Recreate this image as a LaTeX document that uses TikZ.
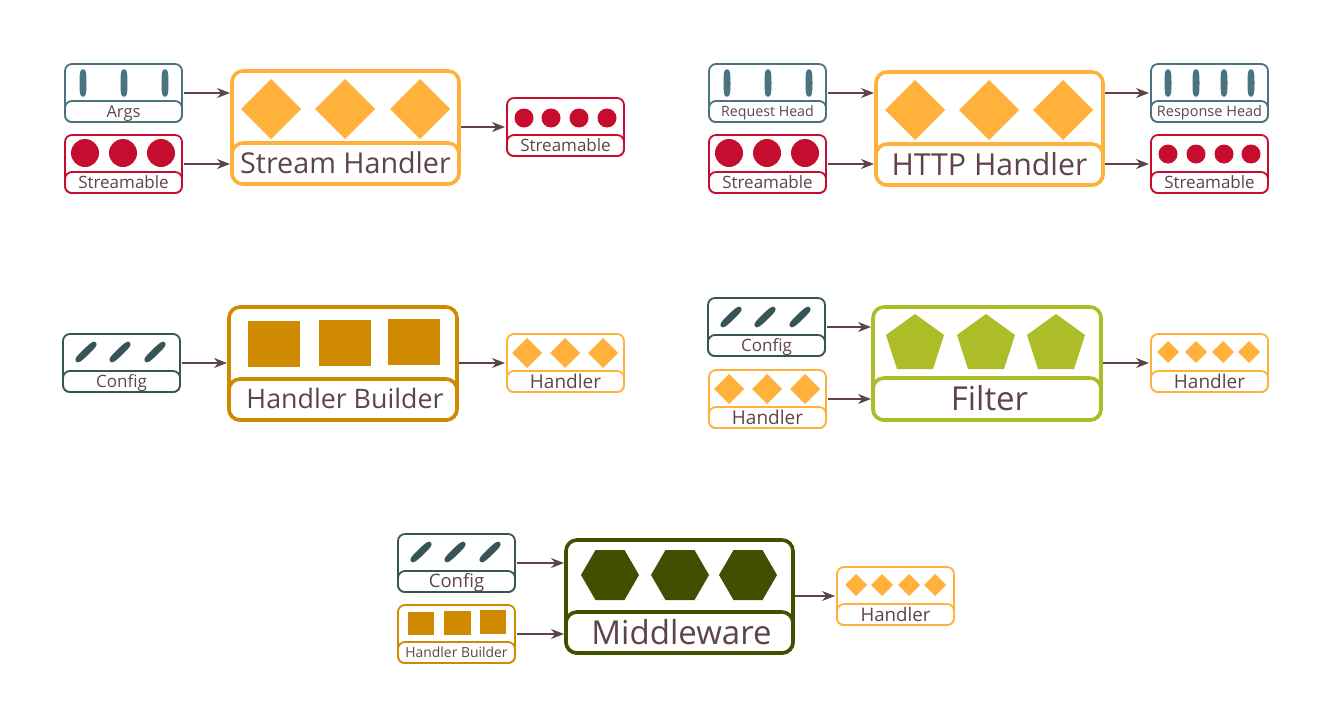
\documentclass[tikz,border=0pt]{standalone}
\usepackage{fontspec}
\setmainfont{Open Sans}
\usetikzlibrary{arrows.meta,calc}
\definecolor{cteal}{HTML}{48737F}
\definecolor{cred}{HTML}{C70D2F}
\definecolor{corange}{HTML}{FFB13B}
\definecolor{cgold}{HTML}{CF8A02}
\definecolor{cgreen}{HTML}{ADBD27}
\definecolor{colive}{HTML}{424F00}
\definecolor{cslate}{HTML}{375556}
\definecolor{cink}{HTML}{5F4447}
\tikzset{
  shell/.style={rounded corners=#1,outer sep=0pt,inner sep=0pt,anchor=center,fill=white},
  smallshell/.style={shell=7pt,line width=1.8pt},
  bigshell/.style={shell=11pt,line width=3.6pt},
  flow/.style={draw=cink,line width=1.2pt,-{Stealth[length=13pt,width=10pt]},shorten >=2pt,shorten <=2pt},
}
% name, x1, y1, x2, y2, label top, colour, text, font size
\newcommand{\panel}[9]{%
  \pgfmathsetlengthmacro{\pw}{(#4-#2)*1pt}%
  \pgfmathsetlengthmacro{\ph}{(#5-#3)*1pt}%
  \pgfmathsetlengthmacro{\lh}{(#5-#6)*1pt}%
  \node[panelkind,draw=#7,minimum width=\pw,minimum height=\ph] (#1) at ({(#2+#4)/2},{(#3+#5)/2}) {};
  \node[panelkind,draw=#7,minimum width=\pw,minimum height=\lh,text=cink,font=\fontsize{#9}{#9}\selectfont,text height=0.85*#9pt,text depth=0.15*#9pt] (#1-label) at ({(#2+#4)/2},{(#6+#5)/2}) {#8};
}
\newcommand{\diamonds}[3]{\foreach \c in {#1} \fill[corange] (\c-#3,#2) -- (\c,#2-#3) -- (\c+#3,#2) -- (\c,#2+#3) -- cycle;}
\newcommand{\discs}[3]{\foreach \c in {#1} \fill[cred] (\c,#2) circle[radius=#3];}
% squarish oval centred on the origin of the enclosing shift, half axes 3.5 by 13.7
\newcommand{\ovalpath}{(0,-13.7) .. controls (2.8,-13.7) and (3.5,-11) .. (3.5,0) .. controls (3.5,11) and (2.8,13.7) .. (0,13.7) .. controls (-2.8,13.7) and (-3.5,11) .. (-3.5,0) .. controls (-3.5,-11) and (-2.8,-13.7) .. (0,-13.7) -- cycle}
\newcommand{\bars}[2]{\foreach \c in {#1} \fill[cteal,shift={(\c,#2)}] \ovalpath;}
\newcommand{\slants}[2]{\foreach \c in {#1} \fill[cslate,shift={(\c,#2)},rotate=-46] \ovalpath;}
\newcommand{\pentagons}[2]{\foreach \c in {#1} \fill[cgreen] (\c,#2) -- (\c+29,#2+21) -- (\c+18,#2+55) -- (\c-18,#2+55) -- (\c-29,#2+21) -- cycle;}
\newcommand{\hexagons}[2]{\foreach \c in {#1} \fill[colive] (\c-29,#2) -- (\c-14.5,#2-25) -- (\c+14.5,#2-25) -- (\c+29,#2) -- (\c+14.5,#2+25) -- (\c-14.5,#2+25) -- cycle;}
\newcommand{\squares}[4]{\fill[cgold] (#1,#2) rectangle ++(#3,#4);}
\begin{document}
\begin{tikzpicture}[x=1pt,y=-1pt]
\useasboundingbox (0,0) rectangle (1330,726);
% small panels
\tikzset{panelkind/.style={smallshell}}
\panel{args}{65}{64}{182}{122}{101}{cteal}{Args}{16.5}
\bars{83,124,165}{83}
\panel{sin}{65}{135}{182}{193}{172}{cred}{Streamable}{17}
\discs{85,123,161}{153}{14}
\panel{sout}{507}{98}{624}{156}{135}{cred}{Streamable}{17}
\discs{524,551,579,607}{118}{9.5}
\panel{req}{709}{64}{826}{122}{101}{cteal}{Request Head}{14.2}
\bars{727,768,809}{83}
\panel{hin}{709}{135}{826}{193}{172}{cred}{Streamable}{17}
\discs{729,767,805}{153}{14}
\panel{resp}{1151}{64}{1268}{122}{101}{cteal}{Response Head}{14.5}
\bars{1168,1196,1224,1251}{83}
\panel{hout}{1151}{135}{1268}{193}{172}{cred}{Streamable}{17}
\discs{1168,1196,1224,1251}{154}{9.5}
\panel{cfga}{63}{334}{180}{392}{371}{cslate}{Config}{17}
\slants{86,120,155}{352}
\panel{bout}{507}{334}{624}{392}{371}{corange}{Handler}{19}
\diamonds{527,565,603}{353}{15}
\panel{cfgb}{708}{298}{825}{356}{335}{cslate}{Config}{17}
\slants{731,765,800}{317}
\panel{hand}{709}{370}{826}{428}{407}{corange}{Handler}{19}
\diamonds{729,767,805}{389}{15}
\panel{fout}{1151}{334}{1268}{392}{371}{corange}{Handler}{19}
\diamonds{1168,1196,1223,1249}{352}{11}
\panel{cfgc}{398}{534}{515}{592}{571}{cslate}{Config}{18.5}
\slants{421,455,490}{552}
\panel{hbin}{398}{605}{515}{663}{642}{cgold}{Handler Builder}{13.9}
\squares{408}{612}{26}{23}
\squares{444}{611}{27}{24}
\squares{480}{610}{26}{24}
\panel{mout}{837}{567}{954}{625}{604}{corange}{Handler}{18.7}
\diamonds{856,882,909,935}{585}{11}
% large panels
\tikzset{panelkind/.style={bigshell}}
\panel{stream}{232}{71}{459}{184}{143}{corange}{Stream Handler}{28.7}
\diamonds{271,345,420}{109}{30}
\panel{http}{876}{72}{1103}{185}{144}{corange}{HTTP Handler}{30.3}
\diamonds{915,989,1063}{110}{30}
\panel{builder}{229}{307}{457}{420}{379}{cgold}{\hspace*{4pt}Handler Builder}{26.8}
\squares{248}{321}{52}{46}
\squares{319}{320}{52}{46}
\squares{388}{319}{52}{46}
\panel{filter}{873}{307}{1101}{420}{378}{cgreen}{\hspace*{5pt}Filter}{33}
\pentagons{915,986,1056}{314}
\panel{mid}{566}{540}{793}{653}{612}{colive}{\hspace*{4pt}Middleware}{33}
\hexagons{610,680,748}{575}
% connectors
\draw[flow] (args.east) -- (args.east -| stream.west);
\draw[flow] (sin.east) -- (sin.east -| stream.west);
\draw[flow] (sout.west -| stream.east) -- (sout.west);
\draw[flow] (req.east) -- (req.east -| http.west);
\draw[flow] (hin.east) -- (hin.east -| http.west);
\draw[flow] (resp.west -| http.east) -- (resp.west);
\draw[flow] (hout.west -| http.east) -- (hout.west);
\draw[flow] (cfga.east) -- (cfga.east -| builder.west);
\draw[flow] (bout.west -| builder.east) -- (bout.west);
\draw[flow] (cfgb.east) -- (cfgb.east -| filter.west);
\draw[flow] (hand.east) -- (hand.east -| filter.west);
\draw[flow] (fout.west -| filter.east) -- (fout.west);
\draw[flow] (cfgc.east) -- (cfgc.east -| mid.west);
\draw[flow] (hbin.east) -- (hbin.east -| mid.west);
\draw[flow] (mout.west -| mid.east) -- (mout.west);
\end{tikzpicture}
\end{document}
